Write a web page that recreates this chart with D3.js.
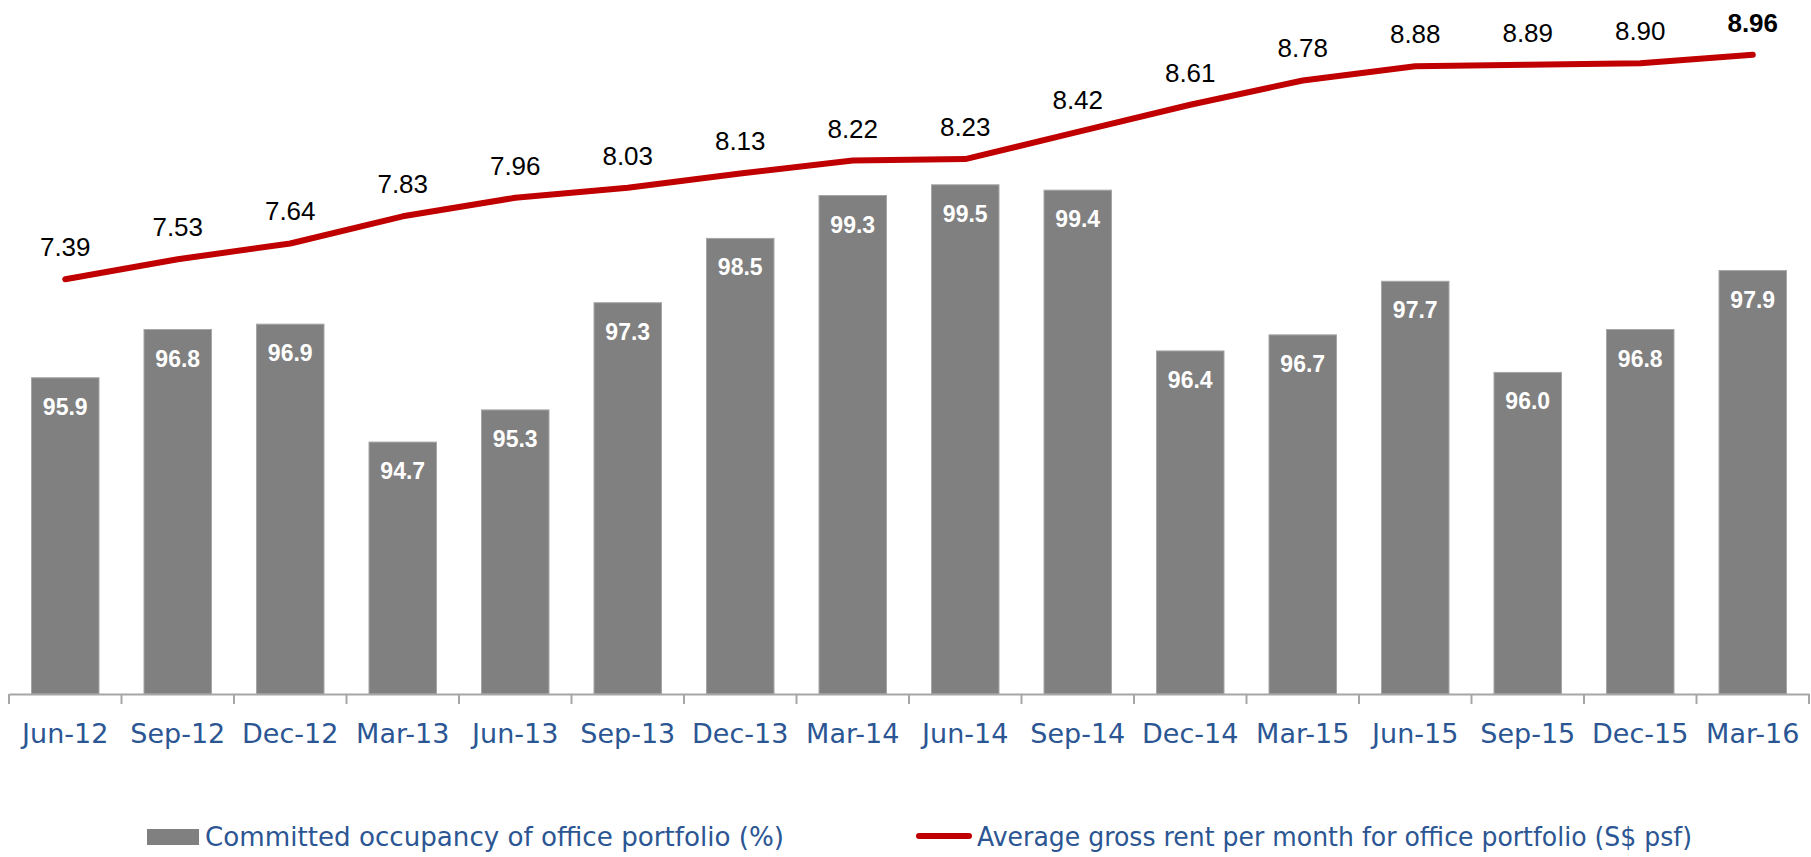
<!DOCTYPE html>
<html>
<head>
<meta charset="utf-8">
<script src="https://cdn.jsdelivr.net/npm/d3@7"></script>
<style>
  html, body { margin: 0; padding: 0; background: #fff; }
  svg { display: block; }
</style>
</head>
<body>
<svg id="chart" width="1811" height="857"></svg>
<script>
var categories = ["Jun-12", "Sep-12", "Dec-12", "Mar-13", "Jun-13", "Sep-13", "Dec-13", "Mar-14",
                  "Jun-14", "Sep-14", "Dec-14", "Mar-15", "Jun-15", "Sep-15", "Dec-15", "Mar-16"];
var occupancy = [95.9, 96.8, 96.9, 94.7, 95.3, 97.3, 98.5, 99.3, 99.5, 99.4, 96.4, 96.7, 97.7, 96.0, 96.8, 97.9];
var rent = [7.39, 7.53, 7.64, 7.83, 7.96, 8.03, 8.13, 8.22, 8.23, 8.42, 8.61, 8.78, 8.88, 8.89, 8.90, 8.96];
var seriesNames = ["Committed occupancy of office portfolio (%)",
                   "Average gross rent per month for office portfolio (S$ psf)"];

var FONT = "'Century Gothic', 'DejaVu Sans', sans-serif";
var NUMFONT = "'Century Gothic', 'Liberation Sans', Arial, sans-serif";
var BLUE = "#2b5693";
var RED = "#c00000";
var GREY = "#808080";

var svg = d3.select("#chart");

/**
 * Scales: bars on the left value axis, rent on a hidden secondary axis.
 */
var x = d3.scaleBand().domain(categories).range([9, 1809])
    .paddingInner(0.4).paddingOuter(0.2);
var y = d3.scaleLinear().domain([90, 100]).range([694, 158]);
var y2 = d3.scaleLinear().domain([7, 9]).range([335, 49]);
var cx = function (i) { return x(categories[i]) + x.bandwidth() / 2; };

/**
 * Bars and their labels.
 */
var bars = svg.append("g");
bars.selectAll("rect").data(occupancy).enter().append("rect")
    .attr("x", function (d, i) { return x(categories[i]); })
    .attr("y", function (d) { return y(d); })
    .attr("width", x.bandwidth())
    .attr("height", function (d) { return y(90) - y(d); })
    .attr("fill", GREY)
    .attr("stroke", "#a6a6a6").attr("stroke-width", 1);
bars.selectAll("text").data(occupancy).enter().append("text")
    .attr("x", function (d, i) { return cx(i); })
    .attr("y", function (d) { return y(d) + 37; })
    .attr("text-anchor", "middle")
    .attr("fill", "#fff")
    .style("font-family", NUMFONT).style("font-weight", "bold").style("font-size", "23px")
    .text(function (d) { return d.toFixed(1); });

/**
 * Category axis: a plain line with ticks between the bands.
 */
var axis = svg.append("g").attr("transform", "translate(0," + y(90) + ")")
    .call(d3.axisBottom(x).tickSize(0));
axis.select(".domain").attr("stroke", "#a6a6a6").attr("stroke-width", 2);
axis.selectAll("text")
    .attr("y", 49).attr("dy", 0)
    .attr("fill", BLUE)
    .style("font-family", FONT).style("font-size", "27px");
var bounds = categories.map(function (c) { return x(c) - (x.step() - x.bandwidth()) / 2; });
bounds.push(x.range()[1]);
axis.selectAll("line.sep").data(bounds).enter().append("line")
    .attr("class", "sep")
    .attr("x1", function (d) { return d; }).attr("x2", function (d) { return d; })
    .attr("y1", 0).attr("y2", 10)
    .attr("stroke", "#a6a6a6").attr("stroke-width", 2);

/**
 * Rent line with labels above each point, the last one in bold.
 */
var line = d3.line()
    .x(function (d, i) { return cx(i); })
    .y(function (d) { return y2(d); });
svg.append("path").datum(rent)
    .attr("d", line)
    .attr("fill", "none")
    .attr("stroke", RED).attr("stroke-width", 6)
    .attr("stroke-linecap", "round").attr("stroke-linejoin", "round");
svg.append("g").selectAll("text").data(rent).enter().append("text")
    .attr("x", function (d, i) { return cx(i); })
    .attr("y", function (d) { return y2(d) - 23; })
    .attr("text-anchor", "middle")
    .attr("fill", "#000")
    .style("font-family", NUMFONT).style("font-size", "26px")
    .style("font-weight", function (d, i) { return i === rent.length - 1 ? "bold" : "normal"; })
    .text(function (d) { return d.toFixed(2); });

/**
 * Legend.
 */
var legend = svg.append("g");
legend.append("rect")
    .attr("x", 147).attr("y", 829).attr("width", 52).attr("height", 16)
    .attr("fill", GREY);
legend.append("line")
    .attr("x1", 919).attr("x2", 969).attr("y1", 836).attr("y2", 836)
    .attr("stroke", RED).attr("stroke-width", 6).attr("stroke-linecap", "round");
legend.selectAll("text").data(seriesNames).enter().append("text")
    .attr("x", function (d, i) { return i === 0 ? 205 : 977; })
    .attr("y", 846)
    .attr("textLength", function (d, i) { return i === 0 ? 579 : 715; })
    .attr("lengthAdjust", "spacingAndGlyphs")
    .attr("fill", BLUE)
    .style("font-family", FONT).style("font-size", "27px")
    .text(function (d) { return d; });
</script>
</body>
</html>
